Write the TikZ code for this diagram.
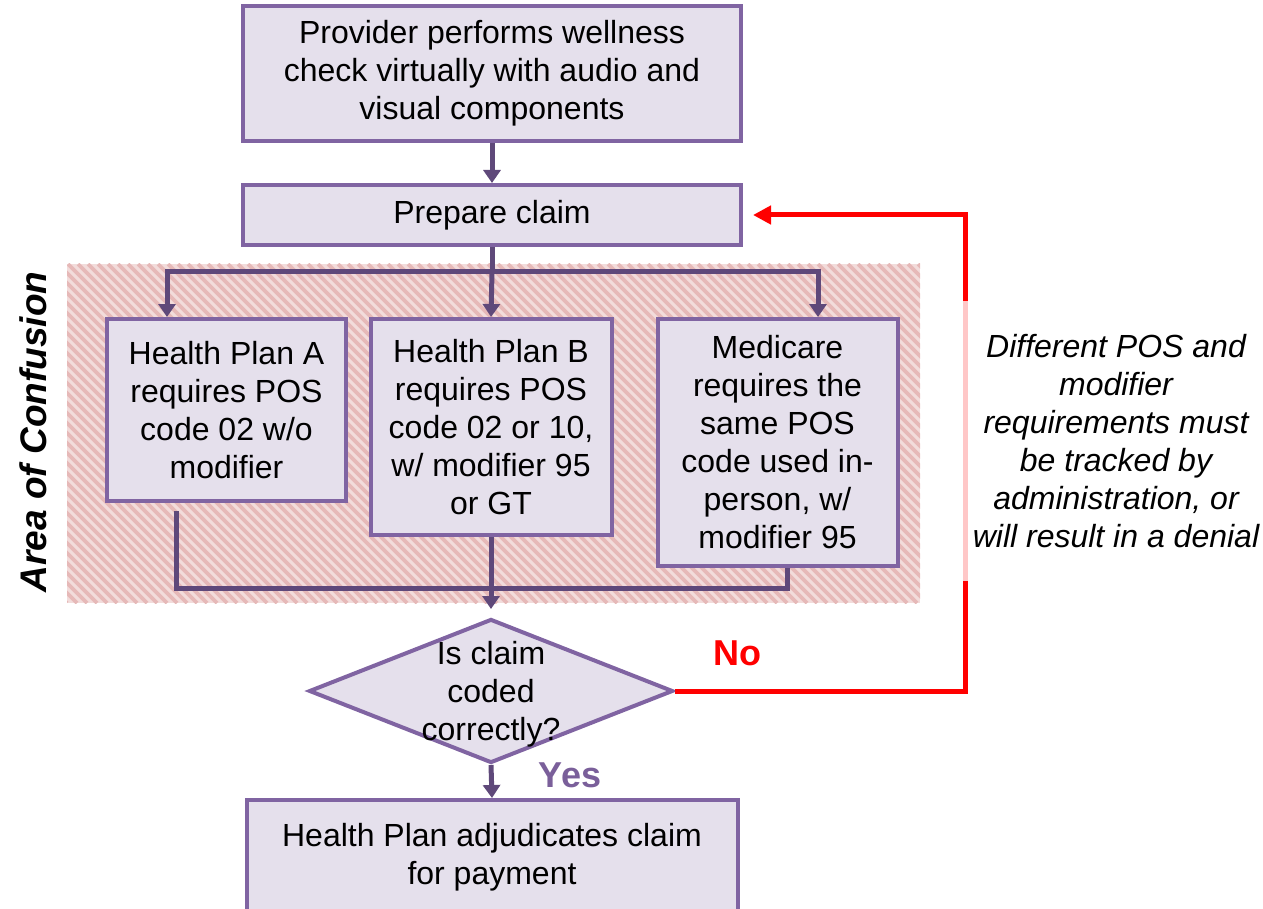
\documentclass[tikz,border=0pt]{standalone}
\usepackage{fontspec}
\setmainfont{Liberation Sans}
\usepackage{xcolor}
\usetikzlibrary{arrows.meta,positioning,calc,shapes.geometric}
\definecolor{boxfill}{HTML}{E5E0EC}
\definecolor{boxline}{HTML}{8064A2}
\definecolor{flowline}{HTML}{5F497A}
\definecolor{hatchbg}{HTML}{F2DCDB}
\definecolor{hatchfg}{HTML}{E6B9B8}
\definecolor{yesclr}{HTML}{7A5F9A}

\begin{document}
\begin{tikzpicture}[
  x=0.5pt, y=-0.5pt,
  txt/.style={font=\fontsize{16}{19}\selectfont, align=center},
  stepbox/.style={txt, draw=boxline, fill=boxfill, line width=2pt, inner sep=0pt},
  decision/.style={diamond, draw=boxline, fill=boxfill, line width=2pt,
    inner sep=0pt, minimum width=182pt, minimum height=72pt},
  link/.style={draw=flowline, line width=2.5pt},
  flow/.style={link, -{Triangle[length=6.5pt,width=8.5pt]}},
  noflow/.style={draw=red, line width=2.5pt,
    -{Triangle[length=9pt,width=9pt]}, shorten >=5pt},
  note/.style={txt, font=\fontsize{16}{19}\selectfont\itshape, fill=white,
    fill opacity=0.78, text opacity=1, minimum width=158pt, minimum height=140pt},
  answer/.style={font=\fontsize{18}{22}\selectfont\bfseries}
]
\useasboundingbox (0,0) rectangle (1263,909);

% hatched area
\fill[hatchbg] (67,264) rectangle (920,603);
\begin{scope}
  \clip (67,264) rectangle (920,603);
  \foreach \i in {0,...,120}
    \draw[hatchfg, line width=1.8pt] ({-272+\i*10},264) -- ++(339,339);
\end{scope}
\node[font=\fontsize{18.5}{22}\selectfont\bfseries\itshape, rotate=90] (area)
  at (33,432) {Area of Confusion};

\node[stepbox, minimum width=249pt, minimum height=67.5pt] (provider) at (492,73.5)
{Provider performs wellness\\check virtually with audio and\\visual components};
\node[stepbox, minimum width=249pt, minimum height=30pt] (claim) at (492,215)
{Prepare claim};

\node[stepbox, minimum width=119.5pt, minimum height=91pt] (planA) at (226.5,410)
{Health Plan A\\requires POS\\code 02 w/o\\modifier};
\node[stepbox, minimum width=120.5pt, minimum height=108pt] (planB) at (491,427)
{Health Plan B\\requires POS\\code 02 or 10,\\w/ modifier 95\\or GT};
\node[stepbox, minimum width=120pt, minimum height=123.5pt] (medicare) at (777.5,442.5)
{Medicare\\requires the\\same POS\\code used in-\\person, w/\\modifier 95};

\node[decision] (check) at (491,691) {};
\node[txt] (checktext) at (491,694) {Is claim\\coded\\correctly?};

\node[stepbox, minimum width=245.5pt, minimum height=57pt] (payment) at (492,857)
{Health Plan adjudicates claim\\for payment};

\node[answer, text=yesclr] (yes) at (570,775) {Yes};
\node[answer, text=red] (no) at (737,653) {No};

\coordinate (split) at (492,272);
\coordinate (loopback) at (965,215);

\draw[flow] (provider) -- (claim);
\draw[link] (claim.south) -- (split);
\draw[flow] (split) -| ($(planA.north)+(-59.5,0)$);
\draw[flow] (split) -- (planB.north);
\draw[flow] (split) -| ($(medicare.north)+(40.5,0)$);

\draw[link] ($(planA.south)+(-50.5,8)$) |- ($(medicare.south)+(9.5,20)$)
  -- ($(medicare.south)+(9.5,0)$);
\draw[flow, shorten >=4pt] (planB.south) -- (check.north);
\draw[flow] (check.south) -- (payment.north);

\draw[noflow] (check.east) -| (loopback) -- (claim.east);

\node[note] (denial) at (1116,441)
{Different POS and\\modifier\\requirements must\\be tracked by\\administration, or\\will result in a denial};
\end{tikzpicture}
\end{document}
